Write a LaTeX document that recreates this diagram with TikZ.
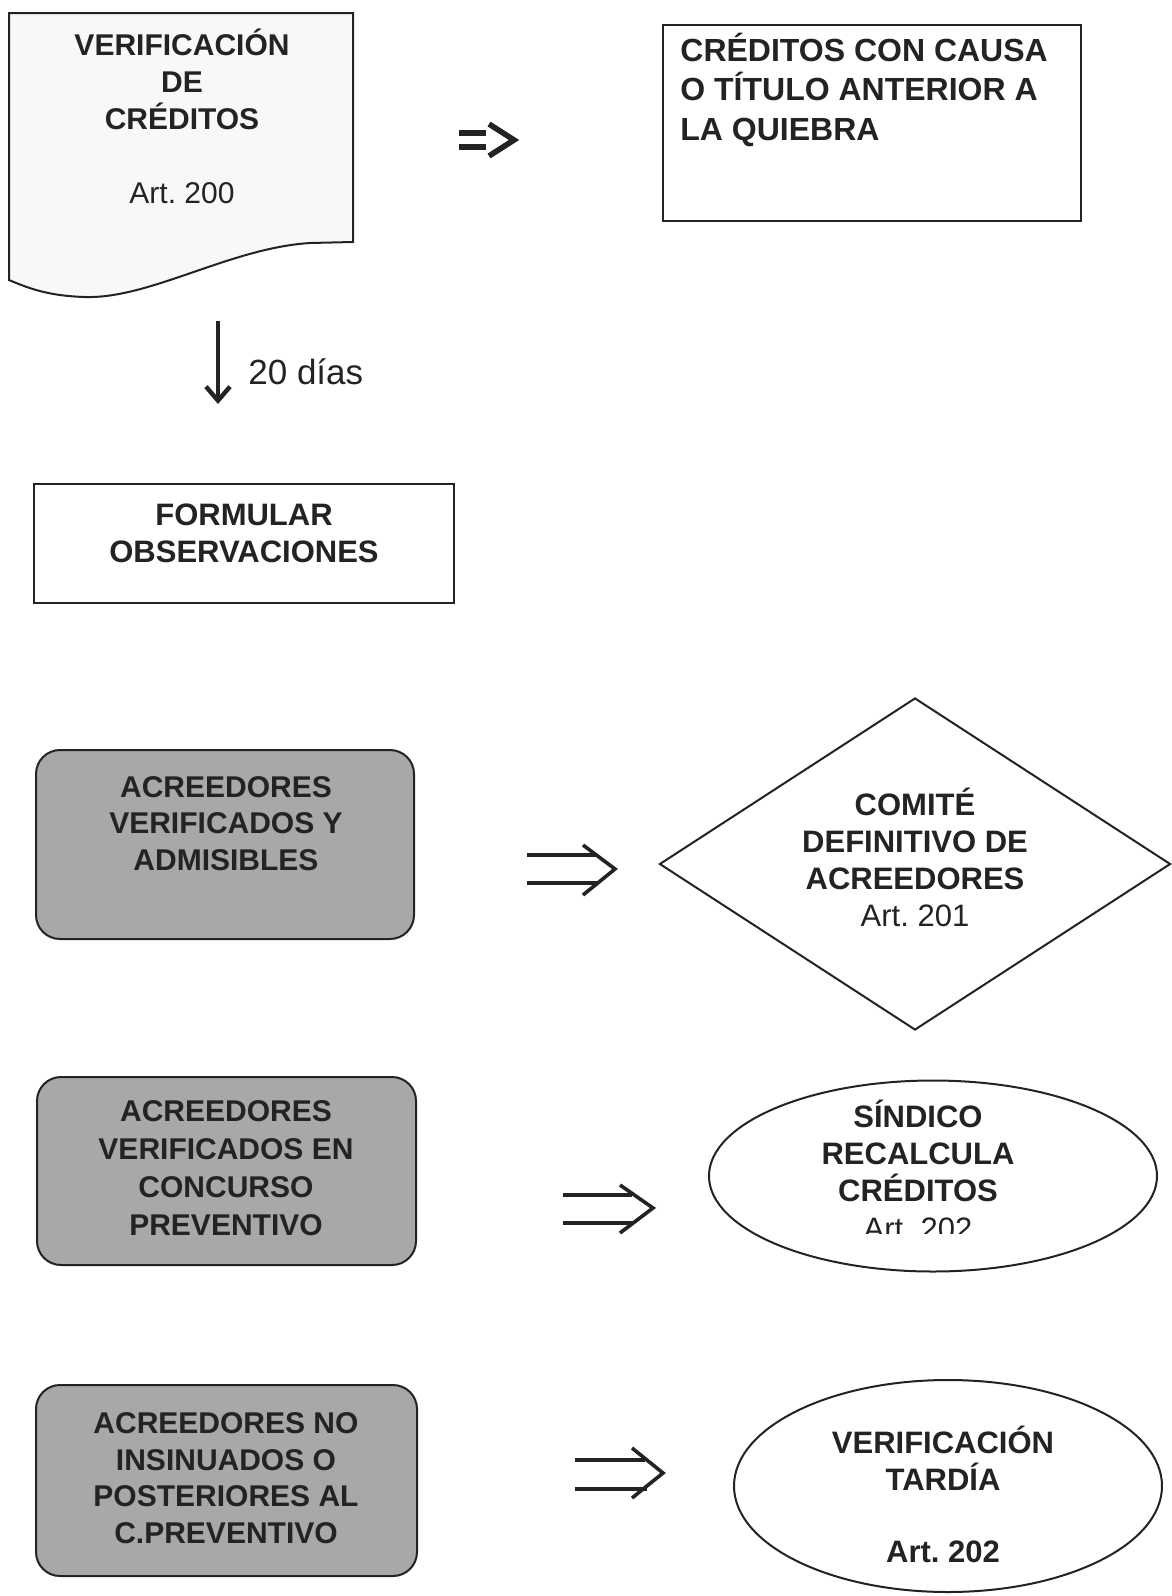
\documentclass[tikz,border=0pt]{standalone}
\usepackage{fontspec}
\setmainfont{Liberation Sans}
\usetikzlibrary{shapes.geometric, arrows.meta}
\definecolor{ink}{RGB}{35,35,35}
\definecolor{shade}{RGB}{168,168,168}
\definecolor{paper}{RGB}{248,248,246}
\frenchspacing
\begin{document}
\begin{tikzpicture}[x=0.5pt, y=-0.5pt,
  outline/.style={draw=ink, line width=1pt},
  plainbox/.style={outline, rectangle, inner sep=0},
  greybox/.style={outline, fill=shade, rectangle, rounded corners=12pt, inner sep=0},
  lbl/.style={text=ink, inner sep=0, align=center, font=\fontsize{15.5}{18.5}\selectfont\bfseries},
  lbll/.style={lbl, align=left, font=\fontsize{16}{19.75}\selectfont\bfseries},
  plain/.style={text=ink, inner sep=0, font=\fontsize{15.5}{18.5}\selectfont},
  implies/.style={draw=ink, line width=1.8pt, line join=miter},
]
\fill[white] (0,0) rectangle (1172,1596);
\useasboundingbox (0,0) rectangle (1172,1596);

% document shape
\draw[outline, fill=paper] (9,13) -- (353,13) -- (353,242) -- (310,243)
  .. controls (230,248) and (150,299) .. (85,297)
  .. controls (50,296) and (30,289) .. (9,280) -- cycle;
\node[lbl, font=\fontsize{15}{18.5}\selectfont\bfseries] (ver) at (182,116)
  {VERIFICACIÓN\\DE\\CRÉDITOS\\[18.5pt]{\mdseries Art. 200}};

% => symbol
\draw[ink, line width=2.6pt] (459,133) -- (486,133) (459,147) -- (486,147);
\draw[ink, line width=2.8pt, line join=miter] (489,124) -- (514,140) -- (489,156);

% box 2
\node[plainbox, minimum width=209pt, minimum height=98pt] (ant) at (872,123) {};
\node[lbll, anchor=west] (antt) at (680,89.5)
  {CRÉDITOS CON CAUSA\\O TÍTULO ANTERIOR A\\LA QUIEBRA};

% down arrow
\coordinate (d1) at (218,321);
\coordinate (d2) at (218,404);
\draw[ink, line width=2.2pt, -{Straight Barb[length=7pt, width=12pt, line width=2.2pt]}] (d1) -- (d2);
\node[plain, font=\fontsize{17.5}{20}\selectfont, anchor=west] (dias) at (248,372) {20 días};

% formular
\node[plainbox, minimum width=210pt, minimum height=59.5pt] (form) at (244,543.5) {};
\node[lbl] (formt) at (244,533) {FORMULAR\\OBSERVACIONES};

% grey boxes
\node[greybox, minimum width=189pt, minimum height=94.5pt] (g1) at (225,844.5) {};
\node[lbl, font=\fontsize{15}{18.25}\selectfont\bfseries] (g1t) at (226,823.5) {ACREEDORES\\VERIFICADOS Y\\ADMISIBLES};

\node[greybox, minimum width=189.5pt, minimum height=94pt] (g2) at (226.5,1171) {};
\node[lbl, font=\fontsize{15}{19}\selectfont\bfseries] (g2t) at (226,1168) {ACREEDORES\\VERIFICADOS EN\\CONCURSO\\PREVENTIVO};

\node[greybox, minimum width=190.5pt, minimum height=95.5pt] (g3) at (226.5,1480.5) {};
\node[lbl, font=\fontsize{15}{18.25}\selectfont\bfseries] (g3t) at (226,1478) {ACREEDORES NO\\INSINUADOS O\\POSTERIORES AL\\C.PREVENTIVO};

% diamond
\node[outline, diamond, minimum width=255.5pt, minimum height=166pt, inner sep=0] (com) at (915,864) {};
\node[lbl] (comt) at (915,857.5) {COMITÉ\\DEFINITIVO DE\\ACREEDORES\\{\mdseries Art. 201}};

% ellipse 1
\node[outline, ellipse, minimum width=224pt, minimum height=95.5pt, inner sep=0] (sin) at (933,1176) {};
\node[lbl] (sint) at (918,1151) {SÍNDICO\\RECALCULA\\CRÉDITOS};
\begin{scope}
  \clip (760,1200) rectangle (1080,1233);
  \node[plain] (sina) at (918,1229) {Art. 202};
\end{scope}

% ellipse 2
\node[outline, ellipse, minimum width=214pt, minimum height=106pt, inner sep=0] (tar) at (948,1486) {};
\node[lbl] (tart) at (943,1458) {VERIFICACIÓN\\TARDÍA};
\node[lbl] (tara) at (943,1552) {Art. 202};

% double arrows
\draw[implies] (527,855) -- (596,855) (527,883) -- (598,883);
\draw[implies] (583,845) -- (615,869) -- (583,895);
\draw[implies] (563,1195) -- (632,1195) (563,1223) -- (634,1223);
\draw[implies] (620,1185) -- (653,1208) -- (620,1233);
\draw[implies] (575,1460) -- (645,1460) (575,1489) -- (647,1489);
\draw[implies] (632,1448) -- (663,1473) -- (632,1498);
\end{tikzpicture}
\end{document}
